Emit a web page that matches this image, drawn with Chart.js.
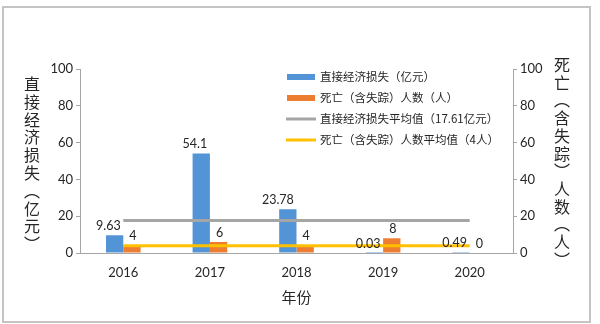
<!DOCTYPE html>
<html>
<head>
<meta charset="utf-8">
<script src="https://cdn.jsdelivr.net/npm/chart.js@4"></script>
<style>
  body { margin: 0; background: #fff; }
  .wrap { position: relative; width: 600px; height: 324px; }
  .frame { position: absolute; left: 2px; top: 6px; width: 589px; height: 317px; border: 2px solid #c4c4c4; box-sizing: border-box; }
  canvas { position: absolute; left: 0; top: 0; }
</style>
</head>
<body>
<div class="wrap">
  <div class="frame"></div>
  <canvas id="chart" width="600" height="324"></canvas>
</div>
<script>
const years = ["2016", "2017", "2018", "2019", "2020"];
const lossValues = [9.63, 54.1, 23.78, 0.03, 0.49];
const deathValues = [4, 6, 4, 8, 0];
const lossAvg = [17.61, 17.61, 17.61, 17.61, 17.61];
const deathAvg = [4, 4, 4, 4, 4];
const yTicks = [0, 20, 40, 60, 80, 100];

const legendNames = ["直接经济损失（亿元）", "死亡（含失踪）人数（人）", "直接经济损失平均值（17.61亿元）", "死亡（含失踪）人数平均值（4人）"];
const leftTitle = ["直", "接", "经", "济", "损", "失", "︵", "亿", "元", "︶"];
const rightTitle = ["死", "亡", "︵", "含", "失", "踪", "︶", "人", "数", "︵", "人", "︶"];
const xTitle = "年份";

const numFont = "Lato, 'Noto Sans CJK SC', sans-serif";
const cjkFont = "'Noto Sans CJK SC', sans-serif";
const textColor = "#262626";
const axisColor = "#a6a6a6";

const colors = ["#5294d6", "#ed7d31", "#a5a5a5", "#ffc000"];

// labels above the bars, legend and the stacked axis titles
const extras = {
  id: "extras",
  afterDatasetsDraw(chart) {
    const ctx = chart.ctx;
    ctx.save();
    ctx.font = "12.5px " + numFont;
    ctx.fillStyle = textColor;
    ctx.textBaseline = "bottom";
    [0, 1].forEach(function (di) {
      const meta = chart.getDatasetMeta(di);
      const values = chart.data.datasets[di].data;
      meta.data.forEach(function (bar, i) {
        // blue labels end at the bar's right edge, orange ones are centred
        if (di === 0) {
          ctx.textAlign = "right";
          ctx.fillText(String(values[i]), Math.max(bar.x + 10, bar.x + bar.width / 2 + 1) - 4, bar.y - 3);
        } else {
          ctx.textAlign = "center";
          ctx.fillText(String(values[i]), bar.x + 1, bar.y - 3);
        }
      });
    });
    ctx.restore();
  },
  afterDraw(chart) {
    const ctx = chart.ctx;
    const area = chart.chartArea;
    ctx.save();

    // legend
    const rows = [77, 98, 119, 140];
    ctx.font = "11.5px " + cjkFont;
    ctx.textBaseline = "middle";
    ctx.textAlign = "left";
    rows.forEach(function (y, i) {
      ctx.fillStyle = colors[i];
      if (i < 2) {
        ctx.fillRect(287, y - 3, 28, 6);
      } else {
        ctx.fillRect(286, y - 1.5, 30, 3);
      }
      ctx.fillStyle = textColor;
      ctx.fillText(legendNames[i], 320, y);
    });

    // vertical axis titles
    ctx.font = "16px " + cjkFont;
    ctx.textAlign = "center";
    ctx.fillStyle = textColor;
    leftTitle.forEach(function (ch, i) {
      ctx.fillText(ch, 32, 84 + i * 17.8);
    });
    rightTitle.forEach(function (ch, i) {
      ctx.fillText(ch, 562, 65 + i * 17.7);
    });

    // x title
    ctx.font = "15px " + cjkFont;
    ctx.fillText(xTitle, (area.left + area.right) / 2, 297);
    ctx.restore();
  }
};

new Chart(document.getElementById("chart"), {
  type: "bar",
  data: {
    labels: years,
    datasets: [
      {
        label: legendNames[0],
        data: lossValues,
        backgroundColor: colors[0],
        yAxisID: "y",
        categoryPercentage: 0.4,
        barPercentage: 1,
        order: 2
      },
      {
        label: legendNames[1],
        data: deathValues,
        backgroundColor: colors[1],
        yAxisID: "y1",
        categoryPercentage: 0.4,
        barPercentage: 1,
        order: 2
      },
      {
        type: "line",
        label: legendNames[2],
        data: lossAvg,
        borderColor: colors[2],
        borderWidth: 3,
        pointRadius: 0,
        yAxisID: "y",
        order: 1
      },
      {
        type: "line",
        label: legendNames[3],
        data: deathAvg,
        borderColor: colors[3],
        borderWidth: 3,
        pointRadius: 0,
        yAxisID: "y1",
        order: 0
      }
    ]
  },
  options: {
    responsive: false,
    animation: false,
    layout: { padding: { left: 0, right: 0, top: 69, bottom: 0 } },
    plugins: {
      legend: { display: false },
      tooltip: { enabled: false }
    },
    scales: {
      x: {
        grid: { display: false, drawTicks: false },
        border: { display: true, color: axisColor, width: 1 },
        ticks: {
          padding: 12,
          color: textColor,
          font: { size: 13, family: numFont }
        },
        afterFit(scale) { scale.height = 71; }
      },
      y: {
        position: "left",
        min: 0,
        max: 100,
        afterBuildTicks(scale) { scale.ticks = yTicks.map(v => ({ value: v })); },
        grid: { drawOnChartArea: false, drawTicks: true, tickLength: 4, color: axisColor },
        border: { display: true, color: axisColor, width: 1 },
        ticks: {
          padding: 3,
          color: textColor,
          font: { size: 13, family: numFont }
        },
        afterFit(scale) { scale.width = 80; }
      },
      y1: {
        position: "right",
        min: 0,
        max: 100,
        afterBuildTicks(scale) { scale.ticks = yTicks.map(v => ({ value: v })); },
        grid: { drawOnChartArea: false, drawTicks: true, tickLength: 4, color: axisColor },
        border: { display: true, color: axisColor, width: 1 },
        ticks: {
          padding: 3,
          color: textColor,
          font: { size: 13, family: numFont }
        },
        afterFit(scale) { scale.width = 87; }
      }
    }
  },
  plugins: [extras]
});
</script>
</body>
</html>
